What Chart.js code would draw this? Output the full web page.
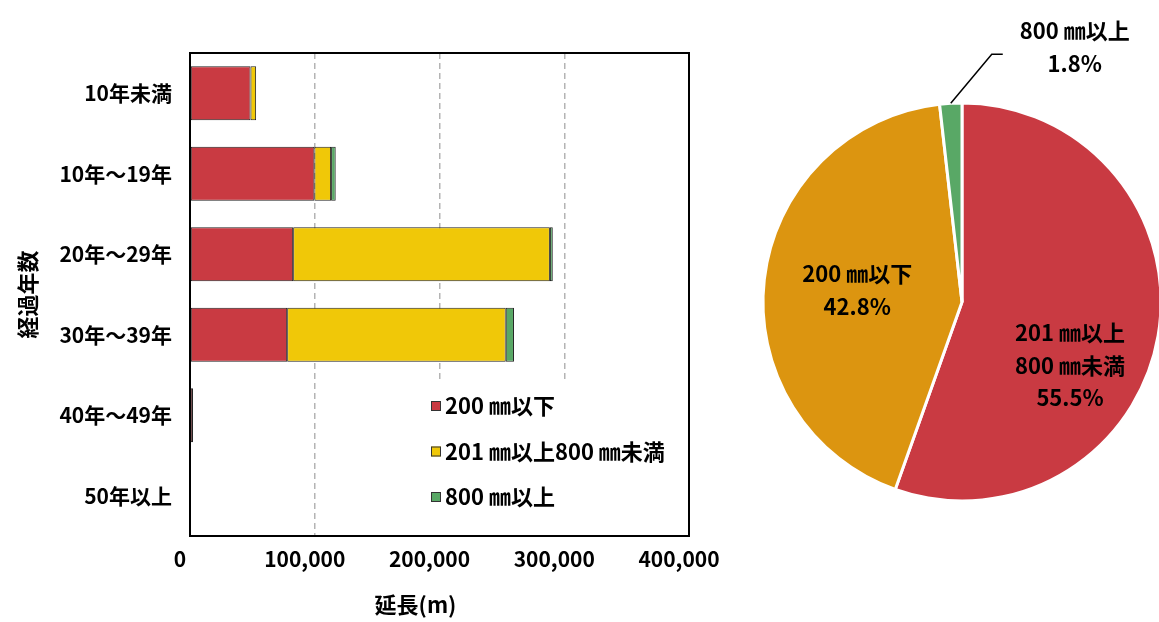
<!DOCTYPE html>
<html lang="ja">
<head>
    <meta charset="UTF-8">
    <title>経過年数別延長</title>
    <script src="https://cdn.jsdelivr.net/npm/chart.js"></script>
<style>
        body {
            margin: 0;
            background-color: #ffffff;
            width: 1159px;
            height: 622px;
            overflow: hidden;
            position: relative;
        }
        #barChart {
            position: absolute;
            left: 0;
            top: 0;
        }
        #pieChart {
            position: absolute;
            left: 740px;
            top: 0;
        }
    </style>
</head>
<body>
    <canvas id="barChart" width="730" height="622"></canvas>
    <canvas id="pieChart" width="419" height="622"></canvas>

    <script>
        // 経過年数ごとの延長 (m)
        const ageLabels = ['10年未満', '10年～19年', '20年～29年', '30年～39年', '40年～49年', '50年以上'];
        const under200 = [48500, 99700, 82700, 77900, 2400, 0];
        const from201to800 = [4500, 13400, 205800, 175200, 0, 0];
        const over800 = [0, 3700, 2300, 6600, 0, 0];
        const xTickValues = [0, 100000, 200000, 300000, 400000];
        const xTitle = '延長(m)';

        // 口径別の割合 (%)
        const pieLabels = [['201 ㎜以上', '800 ㎜未満'], ['200 ㎜以下'], ['800 ㎜以上']];
        const pieShares = [55.5, 42.8, 1.8];

        const FONT = "'Noto Sans CJK JP', 'Noto Sans CJK SC', sans-serif";
        const RED = '#C93A42';
        const YELLOW = '#F0C808';
        const ORANGE = '#DC9510';
        const GREEN = '#59A866';

        // 凡例・枠線・横軸タイトル
        const barExtras = {
            id: 'barExtras',
            afterDatasetsDraw(chart) {
                const ctx = chart.ctx;
                const area = chart.chartArea;
                ctx.save();
                ctx.fillStyle = '#ffffff';
                ctx.fillRect(420, 383, area.right - 421, area.bottom - 384);
                chart.data.datasets.forEach((ds, i) => {
                    const y = 406 + i * 45.5;
                    ctx.fillStyle = ds.backgroundColor;
                    ctx.fillRect(431, y - 5, 10, 10);
                    ctx.strokeStyle = '#333';
                    ctx.lineWidth = 1;
                    ctx.strokeRect(431.5, y - 4.5, 9, 9);
                    ctx.fillStyle = '#000';
                    ctx.font = 'bold 22px ' + FONT;
                    ctx.textBaseline = 'middle';
                    ctx.textAlign = 'left';
                    ctx.fillText(ds.label, 445, y);
                });
                ctx.restore();
            },
            afterDraw(chart) {
                const ctx = chart.ctx;
                const a = chart.chartArea;
                ctx.save();
                ctx.strokeStyle = '#000';
                ctx.lineWidth = 2;
                ctx.strokeRect(a.left, a.top, a.right - a.left, a.bottom - a.top);
                // 横軸タイトル(元図では少し左寄り)
                ctx.fillStyle = '#000';
                ctx.font = 'bold 22px ' + FONT;
                ctx.textAlign = 'center';
                ctx.textBaseline = 'middle';
                ctx.fillText(xTitle, (a.left + a.right) / 2 - 24, 605);
                ctx.restore();
            }
        };

        new Chart(document.getElementById('barChart').getContext('2d'), {
            type: 'bar',
            data: {
                labels: ageLabels,
                datasets: [
                    { label: '200 ㎜以下', data: under200, backgroundColor: RED },
                    { label: '201 ㎜以上800 ㎜未満', data: from201to800, backgroundColor: YELLOW },
                    { label: '800 ㎜以上', data: over800, backgroundColor: GREEN }
                ].map(ds => Object.assign(ds, {
                    borderColor: '#222',
                    borderWidth: 1,
                    borderSkipped: false,
                    barPercentage: 0.67,
                    categoryPercentage: 1
                }))
            },
            options: {
                indexAxis: 'y',
                responsive: false,
                animation: false,
                layout: { padding: { left: 0, top: 53, right: 41, bottom: 0 } },
                plugins: {
                    legend: { display: false },
                    tooltip: { enabled: false }
                },
                scales: {
                    x: {
                        stacked: true,
                        min: 0,
                        max: 400000,
                        afterBuildTicks: scale => { scale.ticks = xTickValues.map(v => ({ value: v })); },
                        afterFit: scale => {
                            scale.height = 86;
                            scale.paddingLeft = 0;
                            scale.paddingRight = 0;
                        },
                        ticks: {
                            color: '#000',
                            font: { family: FONT, size: 21, weight: 'bold' },
                            padding: 10,
                            labelOffset: -10,
                            maxRotation: 0,
                            callback: v => v.toLocaleString('en-US')
                        },
                        grid: {
                            drawTicks: false,
                            color: ctx => (ctx.tick && (ctx.tick.value === 0 || ctx.tick.value === 400000)) ? 'rgba(0,0,0,0)' : '#b4b4b4',
                            lineWidth: 1.5
                        },
                        border: { color: '#000', width: 2, dash: [6, 4] },
                        title: { display: false }
                    },
                    y: {
                        stacked: true,
                        afterFit: scale => { scale.width = 190; },
                        ticks: {
                            color: '#000',
                            font: { family: FONT, size: 21, weight: 'bold' },
                            padding: 18
                        },
                        grid: { display: false, drawTicks: false },
                        border: { color: '#000', width: 2 },
                        title: {
                            display: true,
                            text: '経過年数',
                            color: '#000',
                            font: { family: FONT, size: 22, weight: 'bold' },
                            padding: { top: 14, bottom: 0 }
                        }
                    }
                }
            },
            plugins: [barExtras]
        });

        // 円グラフのラベル
        const pieLabelPos = [
            { r: 0.63, turn: 20.7 },
            { r: 0.53, turn: 0 },
            null
        ];
        const pieLabelPlugin = {
            id: 'pieLabelPlugin',
            afterDatasetsDraw(chart) {
                const ctx = chart.ctx;
                const meta = chart.getDatasetMeta(0);
                ctx.save();
                ctx.fillStyle = '#000';
                ctx.font = 'bold 22px ' + FONT;
                ctx.textAlign = 'center';
                ctx.textBaseline = 'middle';
                meta.data.forEach((arc, i) => {
                    const p = arc.getProps(['x', 'y', 'startAngle', 'endAngle', 'outerRadius'], true);
                    const mid = (p.startAngle + p.endAngle) / 2;
                    const lines = pieLabels[i].concat([pieShares[i].toFixed(1) + '%']);
                    const pos = pieLabelPos[i];
                    let cx, cy;
                    if (pos) {
                        const ang = mid + pos.turn * Math.PI / 180;
                        cx = p.x + Math.cos(ang) * p.outerRadius * pos.r;
                        cy = p.y + Math.sin(ang) * p.outerRadius * pos.r;
                    } else {
                        // 引き出し線
                        const ex = p.x + Math.cos(mid) * p.outerRadius;
                        const ey = p.y + Math.sin(mid) * p.outerRadius;
                        ctx.strokeStyle = '#000';
                        ctx.lineWidth = 1.5;
                        ctx.beginPath();
                        ctx.moveTo(ex, ey);
                        ctx.lineTo(ex + 41, ey - 49);
                        ctx.lineTo(ex + 52, ey - 49);
                        ctx.stroke();
                        cx = ex + 124;
                        cy = ey - 56;
                    }
                    const lh = 32.5;
                    const top = cy - lh * (lines.length - 1) / 2;
                    lines.forEach((t, k) => ctx.fillText(t, cx, top + k * lh));
                });
                ctx.restore();
            }
        };

        new Chart(document.getElementById('pieChart').getContext('2d'), {
            type: 'pie',
            data: {
                labels: pieLabels.map(l => l.join('')),
                datasets: [{
                    data: pieShares,
                    backgroundColor: [RED, ORANGE, GREEN],
                    borderColor: '#ffffff',
                    borderWidth: 3,
                    hoverOffset: 0
                }]
            },
            options: {
                responsive: false,
                animation: false,
                radius: 199,
                layout: { padding: { left: 25, right: 0, top: 0, bottom: 18 } },
                plugins: {
                    legend: { display: false },
                    tooltip: { enabled: false }
                }
            },
            plugins: [pieLabelPlugin]
        });
    </script>
</body>
</html>
